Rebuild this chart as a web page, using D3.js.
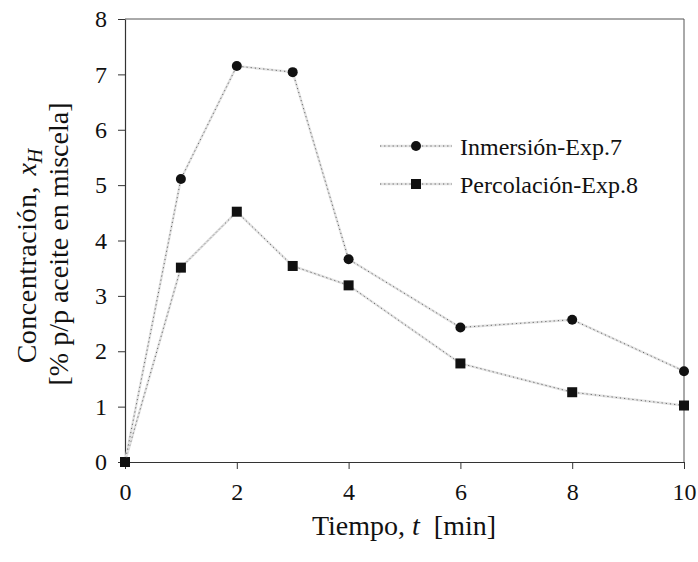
<!DOCTYPE html>
<html><head><meta charset="utf-8">
<script src="https://cdn.jsdelivr.net/npm/d3@7"></script>
<style>body{margin:0;background:#fff}svg{font-family:"Liberation Serif","Times New Roman",serif}</style>
</head><body>
<svg id="c" width="698" height="562"></svg>
<script>
const tiempo = [0, 1, 2, 3, 4, 6, 8, 10];
const inmersion = [0, 5.11, 7.15, 7.04, 3.66, 2.43, 2.57, 1.64];
const percolacion = [0, 3.51, 4.52, 3.54, 3.19, 1.78, 1.26, 1.02];
const xTicks = [0, 2, 4, 6, 8, 10];
const yTicks = [0, 1, 2, 3, 4, 5, 6, 7, 8];
const seriesNames = ["Inmersión-Exp.7", "Percolación-Exp.8"];

const svg = d3.select("#c");
const L = 125, R = 684, T = 19, B = 462;
const x = d3.scaleLinear().domain([0, 10]).range([L, R]);
const y = d3.scaleLinear().domain([0, 8]).range([B, T]);

// frame
svg.append("line").attr("x1", L).attr("x2", R).attr("y1", T).attr("y2", T).attr("stroke", "#555").attr("stroke-width", 1);
svg.append("line").attr("x1", R).attr("x2", R).attr("y1", T).attr("y2", B).attr("stroke", "#555").attr("stroke-width", 1);

const xAxis = svg.append("g").attr("transform", `translate(0,${B})`)
  .call(d3.axisBottom(x).tickValues(xTicks).tickSize(7).tickSizeOuter(0).tickPadding(14));
const yAxis = svg.append("g").attr("transform", `translate(${L},0)`)
  .call(d3.axisLeft(y).tickValues(yTicks).tickSize(7).tickSizeOuter(0).tickPadding(11));
[xAxis, yAxis].forEach(a => {
  a.select(".domain").attr("stroke", "#333").attr("stroke-width", 1.2);
  a.selectAll(".tick line").attr("stroke", "#333").attr("stroke-width", 1);
  a.selectAll("text").attr("font-family", "Liberation Serif").attr("font-size", 24).attr("fill", "#111");
});

const line = d3.line().x(d => x(d[0])).y(d => y(d[1]));
function drawSeries(vals, shape) {
  const pts = tiempo.map((t, i) => [t, vals[i]]);
  svg.append("path").datum(pts).attr("d", line).attr("fill", "none").attr("stroke", "#e2e2e2").attr("stroke-width", 2.4);
  svg.append("path").datum(pts).attr("d", line).attr("fill", "none").attr("stroke", "#666").attr("stroke-width", 1).attr("stroke-dasharray", "1.2,3");
  if (shape === "circle") {
    svg.selectAll(null).data(pts).enter().append("circle")
      .attr("cx", d => x(d[0])).attr("cy", d => y(d[1])).attr("r", 5).attr("fill", "#111");
  } else {
    svg.selectAll(null).data(pts).enter().append("rect")
      .attr("x", d => x(d[0]) - 5).attr("y", d => y(d[1]) - 5).attr("width", 10).attr("height", 10).attr("fill", "#111");
  }
}
drawSeries(percolacion, "square");
drawSeries(inmersion, "circle");

// legend
const legY = [146, 184];
seriesNames.forEach((n, i) => {
  const yy = legY[i];
  svg.append("line").attr("x1", 380).attr("x2", 452).attr("y1", yy).attr("y2", yy).attr("stroke", "#e2e2e2").attr("stroke-width", 2.4);
  svg.append("line").attr("x1", 380).attr("x2", 452).attr("y1", yy).attr("y2", yy).attr("stroke", "#666").attr("stroke-width", 1).attr("stroke-dasharray", "1.2,3");
  if (i === 0) svg.append("circle").attr("cx", 416).attr("cy", yy).attr("r", 5).attr("fill", "#111");
  else svg.append("rect").attr("x", 411).attr("y", yy - 5).attr("width", 10).attr("height", 10).attr("fill", "#111");
  svg.append("text").attr("x", 460).attr("y", yy + 9).attr("font-size", 24).attr("fill", "#111").text(n);
});

// axis titles
const xt = svg.append("text").attr("x", 404).attr("y", 535).attr("text-anchor", "middle").attr("font-size", 28).attr("fill", "#111");
xt.append("tspan").text("Tiempo, ");
xt.append("tspan").attr("font-style", "italic").text("t");
xt.append("tspan").attr("xml:space", "preserve").text("  [min]");

const yt = svg.append("text").attr("transform", "translate(36,256) rotate(-90)").attr("text-anchor", "middle").attr("font-size", 28).attr("fill", "#111");
yt.append("tspan").attr("letter-spacing", 0.5).text("Concentración, ");
yt.append("tspan").attr("font-style", "italic").attr("dx", 3).text("x");
yt.append("tspan").attr("font-style", "italic").attr("font-size", 20).attr("dy", 6).text("H");
svg.append("text").attr("transform", "translate(68,244) rotate(-90)").attr("text-anchor", "middle").attr("font-size", 28).attr("fill", "#111")
  .text("[% p/p aceite en miscela]");
</script>
</body></html>
